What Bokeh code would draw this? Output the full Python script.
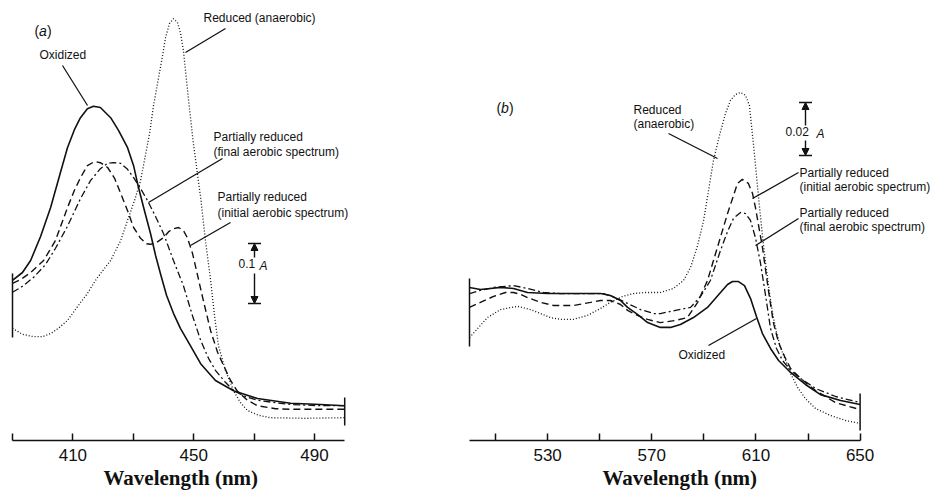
from bokeh.plotting import figure
from bokeh.layouts import row
from bokeh.models import Range1d, FixedTicker, Label, Arrow, NormalHead, Title
from bokeh.embed import file_html
from bokeh.resources import INLINE

# ---------------- Panel (a): Soret region ----------------
wl_ox_a = [390.0, 393.3, 396.0, 399.3, 402.6, 405.9, 408.2, 410.5, 412.5, 414.8, 416.8, 419.1, 422.5, 425.1,
           428.1, 430.1, 431.7, 433.7, 435.7, 437.4, 439.0, 441.0, 443.3, 445.6, 447.9, 452.3, 457.2, 463.2,
           471.1, 482.1, 492.0, 500.0]
abs_ox_a = [0.267, 0.280, 0.300, 0.340, 0.388, 0.447, 0.488, 0.518, 0.538, 0.553, 0.557, 0.555, 0.538, 0.517,
            0.488, 0.458, 0.422, 0.383, 0.345, 0.308, 0.278, 0.242, 0.212, 0.187, 0.167, 0.128, 0.100, 0.083,
            0.070, 0.062, 0.060, 0.058]

wl_init_a = [390.0, 392.6, 396.0, 400.3, 404.2, 408.2, 410.5, 412.5, 414.8, 417.2, 419.1, 421.5, 423.8, 425.8,
             428.1, 430.1, 432.4, 434.4, 435.7, 437.7, 440.0, 441.7, 443.3, 445.0, 446.6, 447.9, 449.6, 451.3,
             453.2, 455.6, 457.9, 459.9, 462.2, 464.5, 467.8, 471.1, 477.1, 482.1, 492.0, 500.0]
abs_init_a = [0.262, 0.268, 0.280, 0.300, 0.333, 0.388, 0.417, 0.438, 0.458, 0.465, 0.463, 0.455, 0.437, 0.412,
              0.383, 0.355, 0.337, 0.328, 0.327, 0.330, 0.338, 0.348, 0.353, 0.355, 0.350, 0.338, 0.312, 0.275,
              0.233, 0.183, 0.147, 0.125, 0.100, 0.082, 0.067, 0.058, 0.053, 0.052, 0.052, 0.052]

wl_final_a = [390.0, 393.3, 397.0, 400.9, 404.2, 408.2, 412.5, 415.8, 419.1, 421.5, 423.4, 425.8, 428.1, 430.1,
              432.4, 434.7, 437.4, 440.0, 443.3, 446.6, 449.6, 452.3, 454.9, 457.2, 460.5, 463.2, 467.2, 471.1,
              477.1, 482.1, 492.0, 500.0]
abs_final_a = [0.247, 0.257, 0.272, 0.293, 0.320, 0.357, 0.403, 0.433, 0.453, 0.462, 0.463, 0.462, 0.452, 0.438,
               0.420, 0.400, 0.373, 0.345, 0.300, 0.258, 0.208, 0.167, 0.137, 0.117, 0.097, 0.083, 0.073, 0.067,
               0.063, 0.060, 0.058, 0.058]

wl_red_a = [390.0, 393.3, 397.0, 399.9, 402.6, 405.2, 408.2, 411.5, 414.8, 417.5, 419.1, 422.5, 425.8, 428.1,
            430.4, 432.4, 434.0, 435.4, 436.7, 438.3, 439.7, 440.7, 442.0, 443.3, 444.6, 445.6, 446.6, 448.3,
            449.9, 451.3, 452.3, 453.9, 455.6, 456.9, 458.2, 460.5, 463.2, 465.5, 467.8, 471.5, 475.4, 486.4, 500.0]
abs_red_a = [0.187, 0.177, 0.173, 0.173, 0.178, 0.187, 0.200, 0.223, 0.245, 0.267, 0.278, 0.300, 0.333, 0.367,
             0.400, 0.433, 0.475, 0.512, 0.558, 0.603, 0.642, 0.672, 0.695, 0.703, 0.697, 0.680, 0.650, 0.567,
             0.495, 0.442, 0.405, 0.333, 0.267, 0.208, 0.158, 0.117, 0.083, 0.063, 0.050, 0.042, 0.038, 0.037, 0.038]

ticks_a = [390, 410, 430, 450, 470, 490]
labels_a = {390: "", 410: "410", 430: "", 450: "450", 470: "", 490: "490"}

# ---------------- Panel (b): visible region ----------------
wl_ox_b = [500.0, 504.2, 508.1, 511.9, 516.9, 522.3, 530.0, 538.8, 546.5, 550.3, 554.1, 558.0, 560.7, 564.5,
           568.4, 573.3, 577.2, 581.0, 586.0, 591.4, 596.4, 599.1, 601.0, 603.3, 605.6, 607.9, 610.2, 612.5,
           615.6, 618.7, 623.3, 629.0, 634.8, 642.5, 650.0]
abs_ox_b = [0.0574, 0.0566, 0.0570, 0.0574, 0.0570, 0.0555, 0.0551, 0.0551, 0.0551, 0.0551, 0.0544, 0.0525,
            0.0499, 0.0473, 0.0442, 0.0424, 0.0424, 0.0435, 0.0461, 0.0499, 0.0555, 0.0585, 0.0596, 0.0596,
            0.0581, 0.0533, 0.0465, 0.0401, 0.0345, 0.0300, 0.0255, 0.0210, 0.0172, 0.0150, 0.0135]

wl_init_b = [500.0, 504.2, 509.2, 513.8, 516.9, 519.6, 522.3, 527.3, 532.3, 539.9, 546.5, 550.3, 554.1, 558.0,
             560.7, 564.5, 568.4, 573.3, 579.1, 583.7, 587.6, 591.4, 595.2, 599.1, 601.4, 602.9, 604.8, 607.1,
             608.7, 609.8, 612.5, 614.8, 616.7, 618.7, 621.0, 623.3, 627.1, 632.9, 640.6, 650.0]
abs_init_b = [0.0499, 0.0518, 0.0540, 0.0555, 0.0555, 0.0548, 0.0536, 0.0518, 0.0506, 0.0506, 0.0518, 0.0525,
              0.0525, 0.0510, 0.0488, 0.0469, 0.0454, 0.0442, 0.0450, 0.0461, 0.0518, 0.0600, 0.0724, 0.0851,
              0.0919, 0.0964, 0.0979, 0.0964, 0.0926, 0.0874, 0.0724, 0.0563, 0.0442, 0.0367, 0.0315, 0.0270,
              0.0233, 0.0187, 0.0142, 0.0116]

wl_final_b = [500.0, 504.2, 509.2, 516.9, 522.3, 528.4, 534.9, 541.5, 551.5, 556.1, 560.7, 565.7, 570.7, 573.3,
              579.1, 584.9, 588.7, 592.5, 596.4, 599.1, 601.4, 604.1, 606.0, 607.9, 609.8, 611.7, 613.7, 615.6,
              617.9, 620.2, 623.3, 627.1, 632.9, 640.6, 650.0]
abs_final_b = [0.0551, 0.0563, 0.0574, 0.0581, 0.0570, 0.0555, 0.0551, 0.0551, 0.0551, 0.0536, 0.0514, 0.0491,
               0.0476, 0.0476, 0.0488, 0.0499, 0.0540, 0.0600, 0.0713, 0.0784, 0.0833, 0.0855, 0.0851, 0.0825,
               0.0761, 0.0668, 0.0544, 0.0420, 0.0345, 0.0300, 0.0263, 0.0233, 0.0195, 0.0165, 0.0142]

wl_red_b = [500.0, 503.5, 506.9, 511.9, 518.4, 523.4, 527.3, 531.1, 534.9, 539.9, 545.3, 550.3, 554.1, 558.8,
            563.0, 567.6, 573.3, 578.3, 582.2, 584.9, 587.6, 589.9, 591.8, 593.7, 596.0, 598.3, 600.2, 602.1,
            604.1, 606.0, 607.5, 609.1, 611.0, 612.5, 613.7, 615.2, 616.4, 617.9, 619.4, 621.7, 623.3, 626.0,
            629.0, 632.9, 638.6, 644.4, 650.0]
abs_red_b = [0.0386, 0.0424, 0.0461, 0.0491, 0.0503, 0.0491, 0.0476, 0.0461, 0.0454, 0.0454, 0.0469, 0.0495,
             0.0518, 0.0540, 0.0551, 0.0555, 0.0555, 0.0570, 0.0600, 0.0649, 0.0731, 0.0825, 0.0938, 0.1050,
             0.1144, 0.1226, 0.1275, 0.1297, 0.1305, 0.1294, 0.1256, 0.1106, 0.0911, 0.0769, 0.0664, 0.0555,
             0.0476, 0.0405, 0.0349, 0.0293, 0.0251, 0.0199, 0.0157, 0.0120, 0.0094, 0.0075, 0.0064]

ticks_b = [510, 530, 550, 570, 590, 610, 630, 650]
labels_b = {510: "", 530: "530", 550: "", 570: "570", 590: "", 610: "610", 630: "", 650: "650"}

x_title = "Wavelength (nm)"

# ---------------- layout helpers (pixel -> data) ----------------
H = 493
BOTTOM = 53
WA, WB = 465, 475


def ax(px):          # panel (a) horizontal pixel -> wavelength
    return 390 + (px - 12) / 3.02


def ay(py):          # panel (a) vertical pixel -> absorbance
    return (440 - py) / 600.0


def bx(px):          # panel (b) absolute pixel -> wavelength
    return 500 + (px - 469) / 2.604


def by(py):
    return (440 - py) / 2667.0


SANS = "Liberation Sans"
SERIF = "Liberation Serif"
INK = "#111111"


def make_fig(width, xr, yr, ticks, overrides, bounds, title_offset):
    p = figure(width=width, height=H, x_range=Range1d(*xr), y_range=Range1d(*yr),
               output_backend="svg", toolbar_location=None, y_axis_location=None,
               min_border=0, min_border_left=0, min_border_right=0, min_border_top=0,
               min_border_bottom=BOTTOM)
    p.outline_line_color = None
    p.grid.visible = False
    p.background_fill_color = "white"
    p.border_fill_color = "white"
    xa = p.xaxis[0]
    xa.ticker = FixedTicker(ticks=ticks)
    xa.major_label_overrides = overrides
    xa.bounds = bounds
    xa.minor_tick_line_color = None
    xa.major_tick_in = 7
    xa.major_tick_out = 0
    xa.major_tick_line_width = 1.5
    xa.major_tick_line_color = INK
    xa.axis_line_width = 1.5
    xa.axis_line_color = INK
    xa.major_label_standoff = 8
    xa.major_label_text_font = SANS
    xa.major_label_text_font_size = "17px"
    xa.major_label_text_color = INK
    p.add_layout(Title(text=x_title, align="left", offset=title_offset, standoff=0,
                       text_font=SERIF, text_font_style="bold", text_font_size="21px",
                       text_color=INK), "below")
    return p


def curves(p, series):
    styles = [
        dict(line_width=1.6),
        dict(line_width=1.4, line_dash="7 4"),
        dict(line_width=1.3, line_dash="7 3 2 3"),
        dict(line_width=1.3, line_dash="1 2"),
    ]
    for (xs, ys), st in zip(series, styles):
        p.line(xs, ys, line_color=INK, **st)


def text(p, x, y, s, size="12px", style="normal", align="left", font=SANS):
    p.add_layout(Label(x=x, y=y, text=s, text_font=font, text_font_size=size,
                       text_font_style=style, text_align=align, text_baseline="top",
                       text_color=INK))


def leader(p, xs0, ys0, xs1, ys1):
    p.segment(x0=xs0, y0=ys0, x1=xs1, y1=ys1, line_color=INK, line_width=1.3)


def scale_bar(p, fx, fy, xpx, top, gap_top, gap_bot, bot, half=6.5):
    head = dict(size=7, fill_color=INK, line_color=INK)
    p.add_layout(Arrow(end=NormalHead(**head), x_start=fx(xpx), y_start=fy(gap_top),
                       x_end=fx(xpx), y_end=fy(top), line_color=INK, line_width=1.4))
    p.add_layout(Arrow(end=NormalHead(**head), x_start=fx(xpx), y_start=fy(gap_bot),
                       x_end=fx(xpx), y_end=fy(bot), line_color=INK, line_width=1.4))
    p.segment(x0=[fx(xpx - half), fx(xpx - half)], y0=[fy(top), fy(bot)],
              x1=[fx(xpx + half), fx(xpx + half)], y1=[fy(top), fy(bot)],
              line_color=INK, line_width=1.6)


# ---------------- panel (a) ----------------
pa = make_fig(WA, (ax(0), ax(WA)), (0, ay(0)), ticks_a, labels_a, (390, 500), 103)
curves(pa, [(wl_ox_a, abs_ox_a), (wl_init_a, abs_init_a), (wl_final_a, abs_final_a), (wl_red_a, abs_red_a)])
# curve end bars
pa.segment(x0=[390, 500], y0=[ay(273), ay(397)], x1=[390, 500], y1=[ay(337), ay(425)],
           line_color=INK, line_width=1.5)
# labels
text(pa, ax(34), ay(22), "(", size="14px")
text(pa, ax(38.5), ay(22), "a", size="14px", style="italic")
text(pa, ax(46.5), ay(22), ")", size="14px")
text(pa, ax(39), ay(47.5), "Oxidized")
text(pa, ax(203), ay(10.5), "Reduced (anaerobic)")
text(pa, ax(213), ay(129.5), "Partially reduced")
text(pa, ax(213), ay(144.5), "(final aerobic spectrum)")
text(pa, ax(217), ay(189.5), "Partially reduced")
text(pa, ax(217), ay(205), "(initial aerobic spectrum)")
leader(pa, [ax(62), ax(225), ax(222), ax(230)], [ay(65), ay(28), ay(158), ay(222)],
       [ax(87), ax(185), ax(148), ax(190)], [ay(105), ay(52), ay(202), ay(245)])
scale_bar(pa, ax, ay, 254, 243, 257, 273, 303)
text(pa, ax(238), ay(258), "0.1")
text(pa, ax(259), ay(258), "A", style="italic")

# ---------------- panel (b) ----------------
pb = make_fig(WB, (bx(WA), bx(WA + WB)), (0, by(0)), ticks_b, labels_b, (500, 650), 137)
curves(pb, [(wl_ox_b, abs_ox_b), (wl_init_b, abs_init_b), (wl_final_b, abs_final_b), (wl_red_b, abs_red_b)])
pb.segment(x0=[500, 650], y0=[by(278), by(393)], x1=[500, 650], y1=[by(346), by(430)],
           line_color=INK, line_width=1.5)
text(pb, bx(496), by(99), "(", size="14px")
text(pb, bx(500.5), by(99), "b", size="14px", style="italic")
text(pb, bx(508.5), by(99), ")", size="14px")
text(pb, bx(633), by(102.5), "Reduced")
text(pb, bx(633), by(116), "(anaerobic)")
text(pb, bx(799), by(165.5), "Partially reduced")
text(pb, bx(799), by(179.5), "(initial aerobic spectrum)")
text(pb, bx(799), by(205.5), "Partially reduced")
text(pb, bx(799), by(219.5), "(final aerobic spectrum)")
text(pb, bx(678), by(347.5), "Oxidized")
leader(pb, [bx(668), bx(798), bx(798), bx(708)], [by(133), by(172), by(218), by(345)],
       [bx(717), bx(752), bx(755), bx(756)], [by(158), by(198), by(245), by(318)])
scale_bar(pb, bx, by, 805, 102, 125, 140, 155)
text(pb, bx(785), by(126), "0.02")
text(pb, bx(816), by(126), "A", style="italic")

layout = row(pa, pb)
open("out.html", "w").write(file_html(layout, INLINE))
